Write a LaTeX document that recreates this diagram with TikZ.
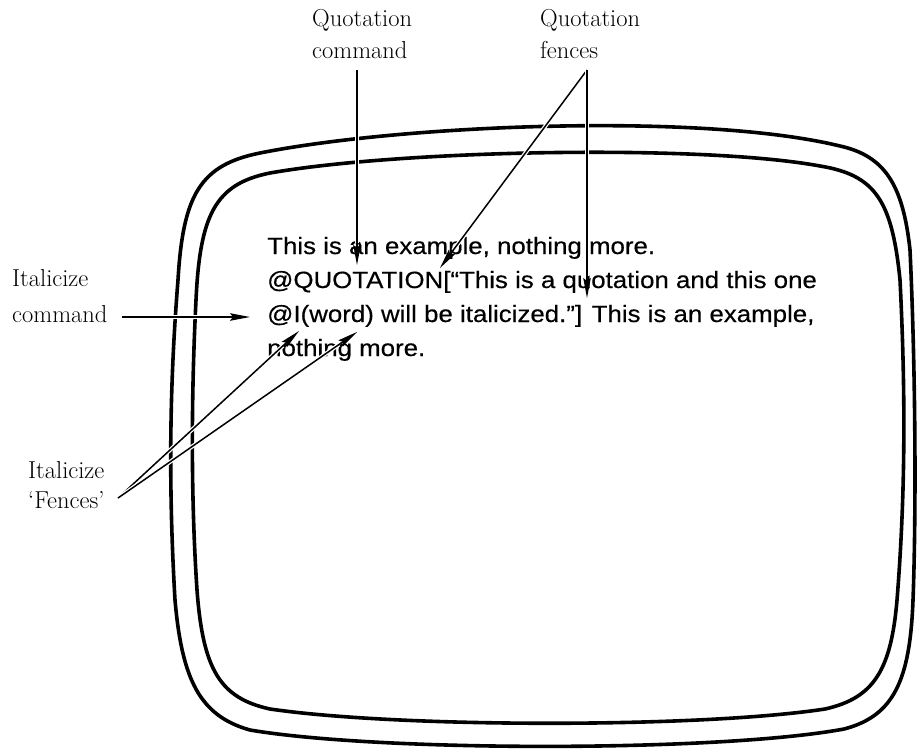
\documentclass[tikz,border=0pt]{standalone}
\usepackage{fontspec}
\usetikzlibrary{arrows.meta}
\newfontfamily\scrfont[FakeStretch=1.1,FakeBold=0.4]{Liberation Sans}
\begin{document}
\begin{tikzpicture}[x=1pt,y=-1pt,
  lbl/.style={anchor=base west,inner sep=0pt,font=\fontsize{24.5}{30}\selectfont},
  scrline/.style={anchor=base west,inner sep=0pt,font=\scrfont\fontsize{23.5}{30}\selectfont},
  outline/.style={line width=3.6pt,line join=round},
  ptr/.style={line width=1.5pt,-{Stealth[length=20pt,width=7.5pt,inset=3pt]},
    preaction={draw=white,line width=4pt,-,shorten >=22pt}}]
\useasboundingbox (0,0) rectangle (917,750);
% outer screen outline
\draw[outline] (260,153) .. controls (400,125) and (700,112) .. (840,146)
  .. controls (885,156) and (903,185) .. (910,250)
  .. controls (916,380) and (916,520) .. (913,600)
  .. controls (910,680) and (894,716) .. (844,729)
  .. controls (720,752) and (380,752) .. (250,730)
  .. controls (200,716) and (182,680) .. (175,600)
  .. controls (168,480) and (170,380) .. (178,280)
  .. controls (183,195) and (200,165) .. cycle;
% inner screen outline
\draw[outline] (270,173) .. controls (400,150) and (700,144) .. (820,166)
  .. controls (875,175) and (892,200) .. (900,280)
  .. controls (906,400) and (905,500) .. (897,600)
  .. controls (891,670) and (874,698) .. (825,709)
  .. controls (700,728) and (400,728) .. (270,709)
  .. controls (220,698) and (203,670) .. (197,590)
  .. controls (191,500) and (191,400) .. (196,300)
  .. controls (200,215) and (215,184) .. cycle;
% screen text
\node[scrline] (t1) at (267,254) {This is an example, nothing more.};
\node[scrline] (t2) at (267,288) {@QUOTATION[“This is a quotation and this one};
\node[scrline] (t3) at (267,322) {@I(word) will be italicized.”] This is an example,};
\node[scrline] (t4) at (267,356) {nothing more.};
% labels
\node[lbl] (qc1) at (312,26) {Quotation};
\node[lbl] (qc2) at (312,58) {command};
\node[lbl] (qf1) at (540,26) {Quotation};
\node[lbl] (qf2) at (540,58) {fences};
\node[lbl] (ic1) at (12,286) {Italicize};
\node[lbl] (ic2) at (12,322) {command};
\node[lbl] (if1) at (28,478) {Italicize};
\node[lbl] (if2) at (28,508) {`Fences'};
% connector points
\coordinate (qcA) at (357,70);
\coordinate (qcT) at (357,265);
\coordinate (qfA) at (587,70);
\coordinate (qfT1) at (440,268);
\coordinate (qfT2) at (587,298);
\coordinate (icA) at (122,317);
\coordinate (icT) at (250,317);
\coordinate (ifA) at (118,498);
\coordinate (ifT1) at (299,331);
\coordinate (ifT2) at (357,332);
% arrows
\draw[ptr] (qcA) -- (qcT);
\draw[ptr] (qfA) -- (qfT1);
\draw[ptr] (qfA) -- (qfT2);
\draw[ptr] (icA) -- (icT);
\draw[ptr] (ifA) -- (ifT1);
\draw[ptr] (ifA) -- (ifT2);
\end{tikzpicture}
\end{document}
